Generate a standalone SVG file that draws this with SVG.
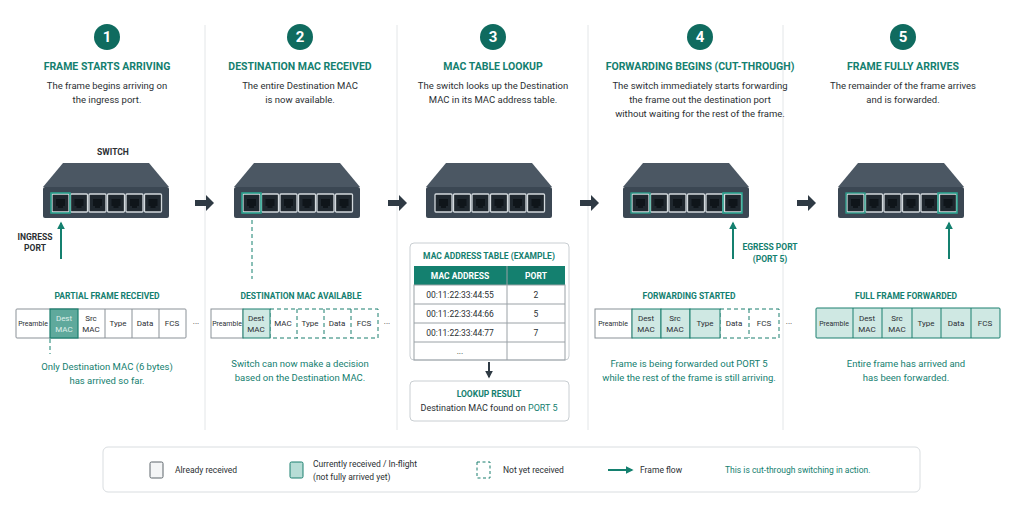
<svg xmlns="http://www.w3.org/2000/svg" width="1024" height="512" viewBox="0 0 1024 512">
<style>
text{font-family:Roboto,"Liberation Sans",Arial,sans-serif}
.num{font-size:15px;font-weight:700;fill:#fff;text-anchor:middle}
.ttl{font-size:10.5px;font-weight:700;fill:#14806f;text-anchor:middle}
.dsc{font-size:9.5px;fill:#2b2f33;text-anchor:middle}
.sub{font-size:8.5px;font-weight:700;fill:#14806f;text-anchor:middle}
.note{font-size:9.5px;fill:#14806f;text-anchor:middle}
.lbl{font-size:8.5px;font-weight:700;fill:#2b2f33;text-anchor:middle}
.cell{font-size:8px;fill:#2b2f33;text-anchor:middle}
.cw{fill:#fff;stroke:#8a9197;stroke-width:1}
.ct{fill:#b7ddd6;stroke:#1a7f6e;stroke-width:1.2}
.ct2{fill:#cfe8e3;stroke:#1a7f6e;stroke-width:1}
.cd{fill:#fff;stroke:#1a7f6e;stroke-width:1;stroke-dasharray:4 3}
.sep{stroke:#e3e6e8;stroke-width:1}
.flow{stroke:#14806f;stroke-width:2;fill:none}
.tb{font-size:8.5px;fill:#2b2f33;text-anchor:middle}
</style>
<defs>
<g id="port"><rect x="0" y="0" width="17" height="18" rx="1" fill="#1f272e" stroke="#d3d9dd" stroke-width="1.3"/><path d="M4 5h9v7h-2v2h-5v-2h-2z" fill="#0f151a"/></g>
<g id="sw">
<path d="M20 0H106L126 24H0Z" fill="#4b5763"/>
<rect x="0" y="24" width="126" height="31" rx="2" fill="#3b4753"/>
<use href="#port" x="9" y="31"/><use href="#port" x="27.5" y="31"/><use href="#port" x="46" y="31"/><use href="#port" x="64.5" y="31"/><use href="#port" x="83" y="31"/><use href="#port" x="101.5" y="31"/>
</g>
<marker id="ah" viewBox="0 0 10 10" refX="8" refY="5" markerWidth="4" markerHeight="4" orient="auto"><path d="M0 0L10 5L0 10Z" fill="#14806f"/></marker>
<marker id="ahd" viewBox="0 0 10 10" refX="8" refY="5" markerWidth="4" markerHeight="4" orient="auto"><path d="M0 0L10 5L0 10Z" fill="#2f3a44"/></marker>
</defs>
<rect width="1024" height="512" fill="#fff"/>
<g id="separators">
<line class="sep" x1="205" y1="25" x2="205" y2="430"/><line class="sep" x1="397" y1="25" x2="397" y2="430"/><line class="sep" x1="588" y1="25" x2="588" y2="430"/><line class="sep" x1="783" y1="25" x2="783" y2="430"/>
</g>
<g id="connectors">
<g fill="#2f3a44">
<path d="M195 200h11v-5l8 8-8 8v-5h-11z"/>
<path d="M388 200h11v-5l8 8-8 8v-5h-11z"/>
<path d="M580 200h11v-5l8 8-8 8v-5h-11z"/>
<path d="M797 200h11v-5l8 8-8 8v-5h-11z"/>
</g>
<line class="flow" x1="61" y1="259" x2="61" y2="223" marker-end="url(#ah)"/>
<line class="flow" x1="733" y1="259" x2="733" y2="223" marker-end="url(#ah)"/>
<line class="flow" x1="949" y1="259" x2="949" y2="223" marker-end="url(#ah)"/>
<line x1="252" y1="220" x2="252" y2="279" stroke="#14806f" stroke-dasharray="4 3"/>
<line x1="50" y1="339" x2="50" y2="354" stroke="#14806f" stroke-dasharray="4 3"/>
<line x1="489" y1="362" x2="489" y2="377" stroke="#2f3a44" stroke-width="2" marker-end="url(#ahd)"/>
</g>

<g id="step1">
<circle cx="107" cy="37" r="13" fill="#0f6b5f"/><text class="num" x="107" y="42">1</text>
<text class="ttl" x="107" y="70">FRAME STARTS ARRIVING</text>
<text class="dsc" x="107" y="89">The frame begins arriving on</text>
<text class="dsc" x="107" y="103">the ingress port.</text>
<text class="lbl" x="113" y="155">SWITCH</text>
<use href="#sw" x="43" y="163"/>
<rect x="51" y="193" width="19" height="20" fill="none" stroke="#2aa892" stroke-width="1.5"/>
<text class="lbl" x="35" y="240">INGRESS</text><text class="lbl" x="35" y="251">PORT</text>
<text class="sub" x="107" y="299">PARTIAL FRAME RECEIVED</text>
<rect class="cw" x="16" y="309" width="170" height="29" rx="1"/>
<rect class="ct" x="50" y="309" width="28" height="29" fill="#5aa99a" style="fill:#5fa99c"/>
<g class="cw"><line x1="105" y1="309" x2="105" y2="338"/><line x1="132" y1="309" x2="132" y2="338"/><line x1="159" y1="309" x2="159" y2="338"/></g>
<text class="cell" x="33" y="326" style="font-size:7px">Preamble</text>
<text class="cell" x="64" y="321" fill="#dfeeea" style="fill:#dfeeea">Dest</text><text class="cell" x="64" y="332" style="fill:#dfeeea">MAC</text>
<text class="cell" x="91" y="321">Src</text><text class="cell" x="91" y="332">MAC</text>
<text class="cell" x="118" y="326">Type</text><text class="cell" x="145" y="326">Data</text><text class="cell" x="172" y="326">FCS</text>
<text class="cell" x="196" y="326">···</text>
<text class="note" x="107" y="370">Only Destination MAC (6 bytes)</text>
<text class="note" x="107" y="384">has arrived so far.</text>
</g>

<g id="step2">
<circle cx="300" cy="37" r="13" fill="#0f6b5f"/><text class="num" x="300" y="42">2</text>
<text class="ttl" x="300" y="70">DESTINATION MAC RECEIVED</text>
<text class="dsc" x="300" y="89">The entire Destination MAC</text>
<text class="dsc" x="300" y="103">is now available.</text>
<use href="#sw" x="234" y="163"/>
<rect x="242" y="193" width="19" height="20" fill="none" stroke="#2aa892" stroke-width="1.5"/>
<text class="sub" x="301" y="299">DESTINATION MAC AVAILABLE</text>
<rect class="cw" x="211" y="309" width="32" height="29"/>
<rect class="cd" x="270" y="309" width="108" height="29"/>
<g stroke="#1a7f6e" stroke-dasharray="4 3"><line x1="297" y1="309" x2="297" y2="338"/><line x1="324" y1="309" x2="324" y2="338"/><line x1="351" y1="309" x2="351" y2="338"/></g>
<rect class="ct2" x="243" y="309" width="27" height="29"/>
<text class="cell" x="227" y="326" style="font-size:7px">Preamble</text>
<text class="cell" x="256" y="321">Dest</text><text class="cell" x="256" y="332">MAC</text>
<text class="cell" x="283" y="326">MAC</text><text class="cell" x="310" y="326">Type</text><text class="cell" x="337" y="326">Data</text><text class="cell" x="364" y="326">FCS</text>
<text class="cell" x="387" y="326">···</text>
<text class="note" x="300" y="367">Switch can now make a decision</text>
<text class="note" x="300" y="381">based on the Destination MAC.</text>
</g>

<g id="step3">
<circle cx="493" cy="37" r="13" fill="#0f6b5f"/><text class="num" x="493" y="42">3</text>
<text class="ttl" x="493" y="70">MAC TABLE LOOKUP</text>
<text class="dsc" x="493" y="89">The switch looks up the Destination</text>
<text class="dsc" x="493" y="103">MAC in its MAC address table.</text>
<use href="#sw" x="426" y="163"/>
<rect x="410" y="243" width="159" height="117" rx="4" fill="#fff" stroke="#c9ced2"/>
<text class="sub" x="489" y="259">MAC ADDRESS TABLE (EXAMPLE)</text>
<rect x="414" y="266" width="151" height="19" fill="#14806f"/>
<text class="sub" x="460" y="279" style="fill:#fff">MAC ADDRESS</text><text class="sub" x="536" y="279" style="fill:#fff">PORT</text>
<g stroke="#9aa1a6" fill="none"><rect x="414" y="285" width="151" height="75"/><line x1="414" y1="304" x2="565" y2="304"/><line x1="414" y1="323" x2="565" y2="323"/><line x1="414" y1="342" x2="565" y2="342"/><line x1="507" y1="266" x2="507" y2="360"/></g>
<text class="tb" x="460" y="298">00:11:22:33:44:55</text><text class="tb" x="536" y="298">2</text>
<text class="tb" x="460" y="317">00:11:22:33:44:66</text><text class="tb" x="536" y="317">5</text>
<text class="tb" x="460" y="336">00:11:22:33:44:77</text><text class="tb" x="536" y="336">7</text>
<text class="tb" x="460" y="354">...</text>
<rect x="410" y="381" width="159" height="40" rx="4" fill="#fff" stroke="#c9ced2"/>
<text class="sub" x="489" y="397">LOOKUP RESULT</text>
<text class="tb" x="489" y="411" style="font-size:9px">Destination MAC found on <tspan fill="#14806f">PORT 5</tspan></text>
</g>

<g id="step4">
<circle cx="700" cy="37" r="13" fill="#0f6b5f"/><text class="num" x="700" y="42">4</text>
<text class="ttl" x="700" y="70">FORWARDING BEGINS (CUT-THROUGH)</text>
<text class="dsc" x="700" y="89">The switch immediately starts forwarding</text>
<text class="dsc" x="700" y="103">the frame out the destination port</text>
<text class="dsc" x="700" y="117">without waiting for the rest of the frame.</text>
<use href="#sw" x="623" y="163"/>
<rect x="631" y="193" width="19" height="20" fill="none" stroke="#2aa892" stroke-width="1.2"/>
<rect x="723" y="193" width="19" height="20" fill="none" stroke="#2aa892" stroke-width="1.5"/>
<text class="sub" x="770" y="250">EGRESS PORT</text><text class="sub" x="770" y="262">(PORT 5)</text>
<text class="sub" x="689" y="299">FORWARDING STARTED</text>
<rect class="cd" x="720" y="309" width="59" height="29"/>
<line x1="749" y1="309" x2="749" y2="338" stroke="#1a7f6e" stroke-dasharray="4 3"/>
<rect class="cw" x="595" y="309" width="37" height="29"/>
<rect class="ct2" x="632" y="309" width="29" height="29"/><rect class="ct2" x="661" y="309" width="29" height="29"/><rect class="ct2" x="690" y="309" width="30" height="29"/>
<text class="cell" x="613" y="326" style="font-size:7px">Preamble</text>
<text class="cell" x="646" y="321">Dest</text><text class="cell" x="646" y="332">MAC</text>
<text class="cell" x="675" y="321">Src</text><text class="cell" x="675" y="332">MAC</text>
<text class="cell" x="705" y="326">Type</text><text class="cell" x="734" y="326">Data</text><text class="cell" x="764" y="326">FCS</text>
<text class="cell" x="789" y="326">···</text>
<text class="note" x="689" y="367">Frame is being forwarded out PORT 5</text>
<text class="note" x="689" y="381">while the rest of the frame is still arriving.</text>
</g>

<g id="step5">
<circle cx="903" cy="37" r="13" fill="#0f6b5f"/><text class="num" x="903" y="42">5</text>
<text class="ttl" x="903" y="70">FRAME FULLY ARRIVES</text>
<text class="dsc" x="903" y="89">The remainder of the frame arrives</text>
<text class="dsc" x="903" y="103">and is forwarded.</text>
<use href="#sw" x="838" y="163"/>
<rect x="846" y="193" width="19" height="20" fill="none" stroke="#2aa892" stroke-width="1.2"/>
<rect x="938" y="193" width="19" height="20" fill="none" stroke="#2aa892" stroke-width="1.5"/>
<text class="sub" x="906" y="299">FULL FRAME FORWARDED</text>
<rect class="ct2" x="816" y="308" width="184" height="30" rx="1"/>
<g stroke="#1a7f6e"><line x1="853" y1="308" x2="853" y2="338"/><line x1="882" y1="308" x2="882" y2="338"/><line x1="912" y1="308" x2="912" y2="338"/><line x1="941" y1="308" x2="941" y2="338"/><line x1="971" y1="308" x2="971" y2="338"/></g>
<text class="cell" x="834" y="326" style="font-size:7px">Preamble</text>
<text class="cell" x="867" y="321">Dest</text><text class="cell" x="867" y="332">MAC</text>
<text class="cell" x="897" y="321">Src</text><text class="cell" x="897" y="332">MAC</text>
<text class="cell" x="926" y="326">Type</text><text class="cell" x="956" y="326">Data</text><text class="cell" x="985" y="326">FCS</text>
<text class="note" x="906" y="367">Entire frame has arrived and</text>
<text class="note" x="906" y="381">has been forwarded.</text>
</g>

<g id="legend">
<rect x="103" y="447" width="817" height="45" rx="5" fill="#fff" stroke="#d9dde0"/>
<rect x="150" y="462" width="13" height="16" rx="1.5" fill="#f4f5f6" stroke="#5d656b"/>
<text x="175" y="473" font-size="8.5" fill="#2b2f33">Already received</text>
<rect x="290" y="462" width="13" height="16" rx="1.5" fill="#b7ddd6" stroke="#1a7f6e"/>
<text x="313" y="467" font-size="8.5" fill="#2b2f33">Currently received / In-flight</text>
<text x="313" y="480" font-size="8.5" fill="#2b2f33">(not fully arrived yet)</text>
<rect x="477" y="462" width="13" height="16" fill="none" stroke="#1a7f6e" stroke-dasharray="3 2.5"/>
<text x="503" y="473" font-size="8.5" fill="#2b2f33">Not yet received</text>
<line class="flow" x1="608" y1="470" x2="632" y2="470" marker-end="url(#ah)"/>
<text x="640" y="473" font-size="8.5" fill="#2b2f33">Frame flow</text>
<text x="725" y="473" font-size="8.5" fill="#14806f">This is cut-through switching in action.</text>
</g>
</svg>
